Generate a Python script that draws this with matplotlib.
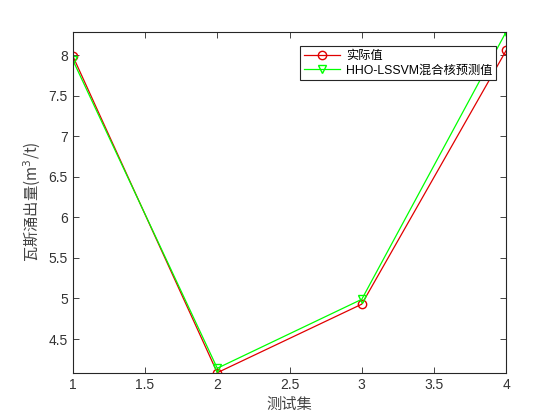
import numpy as np
import matplotlib
matplotlib.use("Agg")
import matplotlib.pyplot as plt

plt.rcParams['font.family'] = ['Liberation Sans', 'Noto Sans CJK SC', 'DejaVu Sans']

test_idx = [1, 2, 3, 4]
actual = [7.99, 4.085, 4.93, 8.06]
predicted = [7.94, 4.14, 4.99, 8.29]
labels = ['实际值', 'HHO-LSSVM混合核预测值']

fig = plt.figure(figsize=(5.6, 4.2), dpi=100)
ax = fig.add_axes([0.13, 0.1126, 0.774, 0.812])

ax.plot(test_idx, actual, color='#e00000', marker='o', markersize=6,
        markerfacecolor='none', linewidth=0.9, label=labels[0])
ax.plot(test_idx, predicted, color='#00ff00', marker='v', markersize=6,
        markerfacecolor='none', linewidth=0.9, label=labels[1])

ax.set_xlim(1, 4)
ax.set_ylim(min(actual + predicted), max(actual + predicted))
ax.set_xticks(np.arange(1, 4.01, 0.5))
ax.set_xticklabels(['1', '1.5', '2', '2.5', '3', '3.5', '4'])
ax.set_yticks(np.arange(4.5, 8.01, 0.5))
ax.set_yticklabels(['4.5', '5', '5.5', '6', '6.5', '7', '7.5', '8'])
ax.tick_params(direction='in', length=4, width=0.6, labelsize=10,
               colors='#262626', top=True, right=True)
for t in ax.get_xticklabels() + ax.get_yticklabels():
    t.set_color('#333333')
for s in ax.spines.values():
    s.set_linewidth(0.8)
    s.set_color('#262626')

cjk = ['Noto Sans CJK SC', 'DejaVu Sans']
ax.set_xlabel('测试集', fontsize=11, color='#444444', family=cjk, labelpad=3)
ax.set_ylabel('瓦斯涌出量(m$^3$/t)', fontsize=11, color='#444444', family=cjk, labelpad=4)

leg = ax.legend(loc='upper right', bbox_to_anchor=(0.99, 0.975), fancybox=False,
                edgecolor='#262626', framealpha=1, borderpad=0.3,
                labelspacing=0.2, handlelength=2.9, handletextpad=0.5,
                prop={'family': ['Liberation Sans', 'Noto Sans CJK SC'], 'size': 8.8})
leg.get_frame().set_linewidth(0.8)

fig.savefig('out.png', dpi=100)
